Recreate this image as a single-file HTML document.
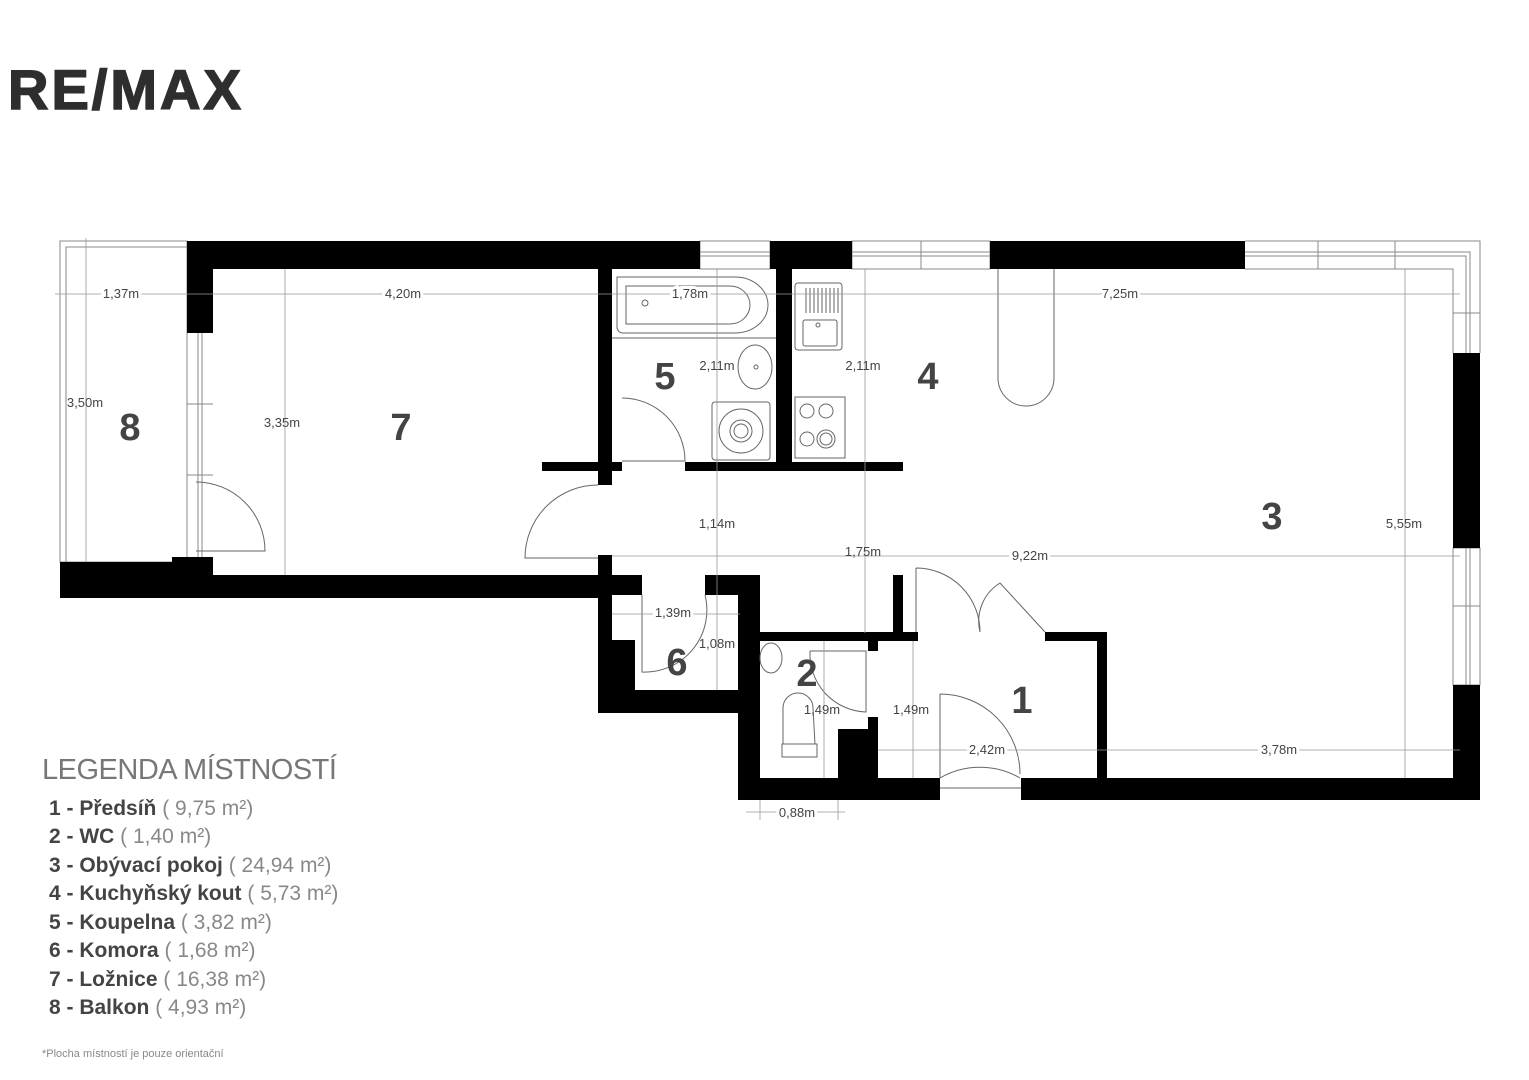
<!DOCTYPE html>
<html><head><meta charset="utf-8"><style>
html,body{margin:0;padding:0;background:#fff;}
body{width:1529px;height:1080px;position:relative;overflow:hidden;font-family:"Liberation Sans",sans-serif;}
svg{position:absolute;left:0;top:0;}
</style></head><body>
<svg width="1529" height="1080" viewBox="0 0 1529 1080" xmlns="http://www.w3.org/2000/svg" font-family="Liberation Sans, sans-serif">
<text x="8" y="109" font-size="56" font-weight="bold" fill="#2e2e2e" letter-spacing="3" stroke="#2e2e2e" stroke-width="1.5">RE/MAX</text>

<g fill="none" stroke="#888" stroke-width="1">
<rect x="60" y="241" width="127" height="321"/>
<rect x="66" y="247" width="121" height="315"/>
<line x1="198" y1="333" x2="198" y2="557"/><line x1="202" y1="333" x2="202" y2="557"/>
<line x1="187" y1="404" x2="213" y2="404"/><line x1="187" y1="475" x2="213" y2="475"/>
<rect x="700" y="241" width="70" height="28"/><line x1="700" y1="252" x2="770" y2="252"/><line x1="700" y1="256" x2="770" y2="256"/>
<rect x="852" y="241" width="138" height="28"/><line x1="852" y1="252" x2="990" y2="252"/><line x1="852" y1="256" x2="990" y2="256"/><line x1="921" y1="241" x2="921" y2="269"/>
<path d="M1245 241 H1480 V353 M1245 269 H1453 V353"/>
<path d="M1245 252 H1470 V353 M1245 256 H1466 V353"/>
<line x1="1318" y1="241" x2="1318" y2="269"/><line x1="1395" y1="241" x2="1395" y2="269"/>
<line x1="1453" y1="313" x2="1480" y2="313"/>
<rect x="1453" y="548" width="27" height="137"/><line x1="1466" y1="548" x2="1466" y2="685"/><line x1="1470" y1="548" x2="1470" y2="685"/>
<line x1="1453" y1="606" x2="1480" y2="606"/>
</g>

<g fill="#000">
<rect x="187" y="241" width="513" height="28"/>
<rect x="770" y="241" width="82" height="28"/>
<rect x="990" y="241" width="255" height="28"/>
<rect x="187" y="241" width="26" height="92"/>
<rect x="60" y="562" width="153" height="36"/>
<rect x="172" y="557" width="41" height="41"/>
<rect x="213" y="575" width="399" height="23"/>
<rect x="598" y="269" width="14" height="216"/>
<rect x="598" y="555" width="14" height="20"/>
<rect x="542" y="462" width="80" height="9"/>
<rect x="685" y="462" width="218" height="9"/>
<rect x="776" y="269" width="16" height="193"/>
<rect x="598" y="575" width="44" height="20"/>
<rect x="705" y="575" width="55" height="20"/>
<rect x="598" y="575" width="14" height="138"/>
<rect x="598" y="640" width="37" height="73"/>
<rect x="598" y="690" width="161" height="23"/>
<rect x="738" y="575" width="22" height="225"/>
<rect x="759" y="632" width="159" height="9"/>
<rect x="1045" y="632" width="62" height="9"/>
<rect x="1097" y="632" width="10" height="146"/>
<rect x="868" y="641" width="10" height="10"/>
<rect x="868" y="717" width="10" height="61"/>
<rect x="838" y="729" width="40" height="49"/>
<rect x="893" y="575" width="10" height="58"/>
<rect x="738" y="778" width="202" height="22"/>
<rect x="1021" y="778" width="459" height="22"/>
<rect x="1453" y="353" width="27" height="195"/>
<rect x="1453" y="685" width="27" height="115"/>
</g>

<g fill="none" stroke="#666" stroke-width="1">
<path d="M196 482 A69 69 0 0 1 265 551 H196"/>
<path d="M598 485 A73 73 0 0 0 525 558 H598"/>
<path d="M622 398 A63 63 0 0 1 685 461 H622"/>
<path d="M642 595 V672 A62 62 0 0 0 705 595"/>
<path d="M810 651 H866 V712 A58 58 0 0 1 810 651"/>
<path d="M916 568 V632 M916 568 A64 64 0 0 1 980 632"/>
<path d="M980 632 A45 45 0 0 1 1000 583 L1045 632"/>
<path d="M940 694 V778 A80 80 0 0 1 1020 778 M940 694 A80 80 0 0 1 1020 774"/>
<line x1="940" y1="788" x2="1021" y2="788"/>
<path d="M617 277 H735 A33 28 0 0 1 735 333 H623 A6 6 0 0 1 617 327 Z"/>
<path d="M626 286 H730 A20 19 0 0 1 730 324 H626 Z"/>
<circle cx="645" cy="303" r="3"/>
<line x1="612" y1="338" x2="776" y2="338"/>
<ellipse cx="755" cy="367" rx="17" ry="22"/>
<circle cx="756" cy="367" r="2"/>
<rect x="712" y="402" width="58" height="58" rx="3"/>
<circle cx="741" cy="431" r="22"/><circle cx="741" cy="431" r="11"/><circle cx="741" cy="431" r="7"/>
<rect x="795" y="283" width="47" height="67" rx="3"/>
<rect x="803" y="320" width="34" height="26" rx="2"/>
<circle cx="818" cy="325" r="2"/>
<path d="M806 288 V313 M810 288 V313 M814 288 V313 M818 288 V313 M822 288 V313 M826 288 V313 M830 288 V313 M834 288 V313 M838 288 V313"/>
<rect x="795" y="397" width="50" height="61"/>
<circle cx="807" cy="411" r="7"/><circle cx="826" cy="411" r="7"/>
<circle cx="807" cy="439" r="7"/><circle cx="826" cy="439" r="9"/><circle cx="826" cy="439" r="6"/>
<path d="M998 269 V378 A28 28 0 0 0 1054 378 V269"/>
<ellipse cx="771" cy="658" rx="11" ry="15"/>
<path d="M783 708 A15 15 0 0 1 813 708 L815 744 H783 Z"/>
<rect x="782" y="744" width="35" height="13"/>
</g>

<g stroke="#999" stroke-width="0.8" fill="none">
<line x1="55" y1="294" x2="1460" y2="294"/>
<line x1="612" y1="556" x2="1460" y2="556"/>
<line x1="878" y1="750" x2="1460" y2="750"/>
<line x1="746" y1="812" x2="845" y2="812"/>
<line x1="612" y1="614" x2="740" y2="614"/>
<line x1="86" y1="238" x2="86" y2="562"/>
<line x1="285" y1="269" x2="285" y2="575"/>
<line x1="717" y1="269" x2="717" y2="690"/>
<line x1="865" y1="269" x2="865" y2="633"/>
<line x1="1405" y1="269" x2="1405" y2="778"/>
<line x1="824" y1="641" x2="824" y2="778"/>
<line x1="913" y1="641" x2="913" y2="778"/>
<line x1="760" y1="800" x2="760" y2="820"/><line x1="838" y1="800" x2="838" y2="820"/>
</g>

<g font-size="13" fill="#444" text-anchor="middle">
<text x="121" y="298" style="paint-order:stroke" stroke="#fff" stroke-width="6">1,37m</text>
<text x="403" y="298" style="paint-order:stroke" stroke="#fff" stroke-width="6">4,20m</text>
<text x="690" y="298" style="paint-order:stroke" stroke="#fff" stroke-width="6">1,78m</text>
<text x="1120" y="298" style="paint-order:stroke" stroke="#fff" stroke-width="6">7,25m</text>
<text x="85" y="407">3,50m</text>
<text x="282" y="427">3,35m</text>
<text x="717" y="370">2,11m</text>
<text x="863" y="370">2,11m</text>
<text x="717" y="528">1,14m</text>
<text x="863" y="556">1,75m</text>
<text x="1030" y="560" style="paint-order:stroke" stroke="#fff" stroke-width="6">9,22m</text>
<text x="1404" y="528">5,55m</text>
<text x="673" y="617" style="paint-order:stroke" stroke="#fff" stroke-width="6">1,39m</text>
<text x="717" y="648">1,08m</text>
<text x="822" y="714">1,49m</text>
<text x="911" y="714">1,49m</text>
<text x="987" y="754" style="paint-order:stroke" stroke="#fff" stroke-width="6">2,42m</text>
<text x="1279" y="754" style="paint-order:stroke" stroke="#fff" stroke-width="6">3,78m</text>
<text x="797" y="817" style="paint-order:stroke" stroke="#fff" stroke-width="6">0,88m</text>
</g>

<g font-size="38" font-weight="bold" fill="#444" text-anchor="middle">
<text x="130" y="440">8</text>
<text x="401" y="440">7</text>
<text x="665" y="389">5</text>
<text x="928" y="389">4</text>
<text x="1272" y="529">3</text>
<text x="677" y="675">6</text>
<text x="807" y="686">2</text>
<text x="1022" y="713">1</text>
</g>

<text x="42" y="779" font-size="29" fill="#777" letter-spacing="-0.5">LEGENDA MÍSTNOSTÍ</text>
<g font-size="21" fill="#444">
<text x="49" y="815"><tspan font-weight="bold">1 - Předsíň</tspan><tspan fill="#888"> ( 9,75 m²)</tspan></text>
<text x="49" y="843"><tspan font-weight="bold">2 - WC</tspan><tspan fill="#888"> ( 1,40 m²)</tspan></text>
<text x="49" y="872"><tspan font-weight="bold">3 - Obývací pokoj</tspan><tspan fill="#888"> ( 24,94 m²)</tspan></text>
<text x="49" y="900"><tspan font-weight="bold">4 - Kuchyňský kout</tspan><tspan fill="#888"> ( 5,73 m²)</tspan></text>
<text x="49" y="929"><tspan font-weight="bold">5 - Koupelna</tspan><tspan fill="#888"> ( 3,82 m²)</tspan></text>
<text x="49" y="957"><tspan font-weight="bold">6 - Komora</tspan><tspan fill="#888"> ( 1,68 m²)</tspan></text>
<text x="49" y="986"><tspan font-weight="bold">7 - Ložnice</tspan><tspan fill="#888"> ( 16,38 m²)</tspan></text>
<text x="49" y="1014"><tspan font-weight="bold">8 - Balkon</tspan><tspan fill="#888"> ( 4,93 m²)</tspan></text>
</g>
<text x="42" y="1057" font-size="11" fill="#888">*Plocha místností je pouze orientační</text>
</svg>
</body></html>
